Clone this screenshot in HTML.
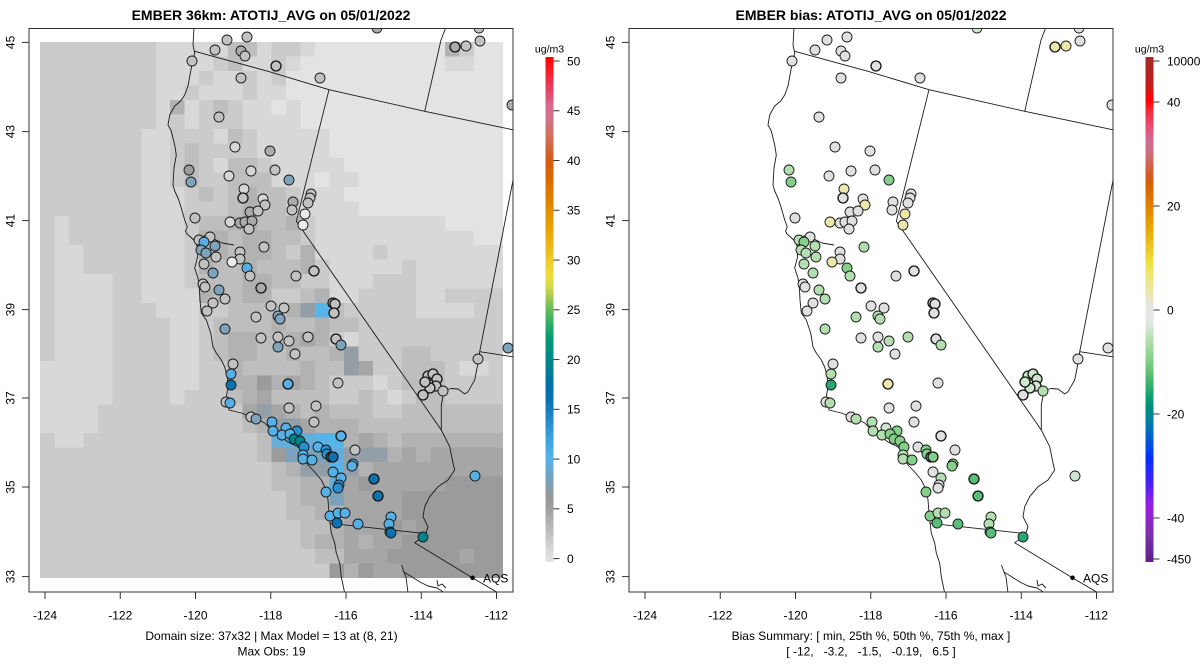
<!DOCTYPE html>
<html><head><meta charset="utf-8">
<style>
html,body{margin:0;padding:0;background:#fff;}
svg{display:block;font-family:"Liberation Sans",Arial,sans-serif;}
.t{font-size:12px;fill:#000;}
.ttl{font-size:14px;font-weight:bold;fill:#000;}
.ln{fill:none;stroke:#1a1a1a;stroke-width:0.9;stroke-linejoin:round;}
</style></head>
<body>
<svg id="s" width="1200" height="672" viewBox="0 0 1200 672" xmlns="http://www.w3.org/2000/svg">
<defs>
<clipPath id="cl"><rect x="29" y="28.5" width="484" height="563.5"/></clipPath>
<clipPath id="cr"><rect x="629" y="28.5" width="484" height="563.5"/></clipPath>
<linearGradient id="gl" gradientUnits="userSpaceOnUse" x1="0" y1="57" x2="0" y2="562">
<stop offset="0" stop-color="#ff0000"/>
<stop offset="0.028" stop-color="#f51e2a"/>
<stop offset="0.067" stop-color="#e44468"/>
<stop offset="0.097" stop-color="#d66a94"/>
<stop offset="0.127" stop-color="#d07482"/>
<stop offset="0.166" stop-color="#d06c52"/>
<stop offset="0.206" stop-color="#d45c10"/>
<stop offset="0.246" stop-color="#d96c00"/>
<stop offset="0.283" stop-color="#de8000"/>
<stop offset="0.323" stop-color="#e49a00"/>
<stop offset="0.362" stop-color="#e9b010"/>
<stop offset="0.402" stop-color="#eec828"/>
<stop offset="0.432" stop-color="#eedd3a"/>
<stop offset="0.451" stop-color="#d8dc48"/>
<stop offset="0.471" stop-color="#b2cc50"/>
<stop offset="0.491" stop-color="#7cc258"/>
<stop offset="0.511" stop-color="#52b860"/>
<stop offset="0.531" stop-color="#2aaa66"/>
<stop offset="0.560" stop-color="#009a76"/>
<stop offset="0.590" stop-color="#008c86"/>
<stop offset="0.620" stop-color="#007e94"/>
<stop offset="0.650" stop-color="#0070a6"/>
<stop offset="0.679" stop-color="#0a70b4"/>
<stop offset="0.709" stop-color="#1f82c6"/>
<stop offset="0.739" stop-color="#3098d8"/>
<stop offset="0.766" stop-color="#42a8e0"/>
<stop offset="0.796" stop-color="#56b2e6"/>
<stop offset="0.816" stop-color="#67a9d2"/>
<stop offset="0.836" stop-color="#76a2bc"/>
<stop offset="0.855" stop-color="#8a9ea8"/>
<stop offset="0.875" stop-color="#979797"/>
<stop offset="0.895" stop-color="#a0a0a0"/>
<stop offset="0.915" stop-color="#adadad"/>
<stop offset="0.935" stop-color="#bababa"/>
<stop offset="0.954" stop-color="#c8c8c8"/>
<stop offset="0.974" stop-color="#d6d6d6"/>
<stop offset="1" stop-color="#e4e4e4"/>
</linearGradient>
<linearGradient id="gr" gradientUnits="userSpaceOnUse" x1="0" y1="57" x2="0" y2="562">
<stop offset="0" stop-color="#a52a2a"/>
<stop offset="0.036" stop-color="#b22222"/>
<stop offset="0.061" stop-color="#d01818"/>
<stop offset="0.085" stop-color="#ff0000"/>
<stop offset="0.109" stop-color="#f03040"/>
<stop offset="0.135" stop-color="#e84c6c"/>
<stop offset="0.164" stop-color="#d06a96"/>
<stop offset="0.188" stop-color="#cf7080"/>
<stop offset="0.214" stop-color="#d0644c"/>
<stop offset="0.240" stop-color="#d45a1a"/>
<stop offset="0.263" stop-color="#d86800"/>
<stop offset="0.293" stop-color="#e08000"/>
<stop offset="0.323" stop-color="#e49a00"/>
<stop offset="0.352" stop-color="#e8b010"/>
<stop offset="0.382" stop-color="#eec828"/>
<stop offset="0.406" stop-color="#f0e040"/>
<stop offset="0.432" stop-color="#f0e670"/>
<stop offset="0.461" stop-color="#ece6a8"/>
<stop offset="0.485" stop-color="#e6e6d0"/>
<stop offset="0.501" stop-color="#e6e6e6"/>
<stop offset="0.521" stop-color="#e6e6e6"/>
<stop offset="0.541" stop-color="#cce6cc"/>
<stop offset="0.566" stop-color="#aedcaa"/>
<stop offset="0.590" stop-color="#90d490"/>
<stop offset="0.616" stop-color="#70c878"/>
<stop offset="0.644" stop-color="#40b468"/>
<stop offset="0.671" stop-color="#10a070"/>
<stop offset="0.695" stop-color="#008c80"/>
<stop offset="0.719" stop-color="#0080a0"/>
<stop offset="0.743" stop-color="#0068c0"/>
<stop offset="0.768" stop-color="#0050e0"/>
<stop offset="0.794" stop-color="#0030ff"/>
<stop offset="0.822" stop-color="#2828f8"/>
<stop offset="0.848" stop-color="#5020f0"/>
<stop offset="0.873" stop-color="#8020e8"/>
<stop offset="0.897" stop-color="#9a20d8"/>
<stop offset="0.925" stop-color="#8a28c0"/>
<stop offset="0.950" stop-color="#7830a8"/>
<stop offset="0.976" stop-color="#6a2898"/>
<stop offset="1" stop-color="#602080"/>
</linearGradient>
<g id="map">
<path class="ln" d="M194,28 L193,45 L194.7,53 L191.3,68 L188,86 L184.7,95 L180.7,101 L174.7,106 L169.7,115 L168,125 L171.3,131 L174.7,145 L176.3,155 L174,168 L173,185 L174.7,191 L178,198 L181.3,208 L184.7,220 L187.3,227 L185.5,231 L187,234 L190,236.5 L194.7,241 L198,248 L197.3,258 L194.7,268 L198,278 L199.5,290 L200,300 L201.3,313 L206.3,320 L210.7,333 L213,347 L216.3,353 L221.3,360 L224.7,367 L227.3,377 L228,387 L226.3,397 L228,403 L229,410 L241.3,413 L254.7,418 L264.7,423 L273,432 L281.3,437 L288,442 L298,447 L303,452 L305,460 L308,465 L314.7,472 L321.3,480 L326.3,490 L328,500 L329,513 L329.7,520 L331.3,533 L334.7,543 L336.3,553 L339.7,563 L341.3,577 L344.7,593"/>
<path class="ln" d="M199,239 L204,236 L210,237 L216,240 L222,243 L228,244 L234,245"/>
<path class="ln" d="M194.7,51.3 L268,71.3 L329,89.7 L424.7,111.3 L514,130"/>
<path class="ln" d="M329,89.7 L296.3,221.3 L441.3,430"/>
<path class="ln" d="M424.7,111.3 L436,62 L441,40 L446,27"/>
<path class="ln" d="M514,175 L479.7,351.7 L514,357"/>
<path class="ln" d="M479.7,351.7 L478,363 L474.7,380 L468,391.7 L464.7,394 L458,389 L451,388.5 L446,390 L443,396 L441.3,405 L441.3,430 L449.7,446.7 L453,463 L454.7,470 L448,480 L438,486.7 L429.7,496.7 L424.7,506.7 L423,516.7 L428,526.7 L425.3,535 L414.7,542.7 L472.3,577.7 L500,594"/>
<path class="ln" d="M329.7,523.3 L423,533.3 L425.3,535"/>
<path class="ln" d="M401.5,565 L404,572 L406,577 L407,585 L408,593 M404,572 L412,577 L420,582 L428,586 L437,588 L445,593 M437,580 L438,586 L442,584 L446,588"/>
</g>
</defs>

<text class="ttl" x="271" y="20" text-anchor="middle">EMBER 36km: ATOTIJ_AVG on 05/01/2022</text>
<text class="ttl" x="871" y="20" text-anchor="middle">EMBER bias: ATOTIJ_AVG on 05/01/2022</text>

<g clip-path="url(#cl)">
<g id="grid" shape-rendering="crispEdges"></g>
<use href="#map"/>
<g id="ptsL"></g>
<circle cx="472.5" cy="577.8" r="2.3" fill="#000"/>
<text class="t" x="483" y="582.5">AQS</text>
</g>
<rect x="29" y="28.5" width="484" height="563.5" fill="none" stroke="#333" stroke-width="1"/>

<g clip-path="url(#cr)">
<use href="#map" transform="translate(600,0)"/>
<g id="ptsR"></g>
<circle cx="1072.5" cy="577.8" r="2.3" fill="#000"/>
<text class="t" x="1083" y="582.5">AQS</text>
</g>
<rect x="629" y="28.5" width="484" height="563.5" fill="none" stroke="#333" stroke-width="1"/>

<g id="axes" stroke="#333" stroke-width="1"></g>
<g id="labs"></g>

<text class="t" x="271.5" y="640" text-anchor="middle">Domain size: 37x32 | Max Model = 13 at (8, 21)</text>
<text class="t" x="271.5" y="655.5" text-anchor="middle">Max Obs: 19</text>
<text class="t" x="871" y="640" text-anchor="middle">Bias Summary: [ min, 25th %, 50th %, 75th %, max ]</text>
<text class="t" x="871" y="655.5" text-anchor="middle" style="white-space:pre">[ -12,   -3.2,   -1.5,   -0.19,   6.5 ]</text>

<text x="549.5" y="52.5" text-anchor="middle" style="font-size:10.5px">ug/m3</text>
<rect x="545.5" y="57" width="8" height="505" fill="url(#gl)"/>
<text x="1149.5" y="52.5" text-anchor="middle" style="font-size:10.5px">ug/m3</text>
<rect x="1145.5" y="57" width="8" height="505" fill="url(#gr)"/>
</svg>
<script>
(function(){
var NS="http://www.w3.org/2000/svg";
function el(tag,a,p){var e=document.createElementNS(NS,tag);for(var k in a)e.setAttribute(k,a[k]);p.appendChild(e);return e;}
function tx(str,a,p,cls){var e=el('text',a,p);e.setAttribute('class',cls||'t');e.textContent=str;return e;}
var T="2222222222222222";
var G=[
"22222222111113312210000000004200",
"22222222111123112100000000001100",
"22222222111211212000000000000000",
"22222222112111211000000000000000",
"22222222141232110100000000000000",
"22222222121222111100000000000000",
"22222221122213211111000000000000",
"22222221123222211111000000000000",
"22222221123213321111100000000000",
"22222221123223331110110000000000",
"22222221112323433211100000000000",
"22222221112223433211110000000000",
"21222221112334433421111111110000",
"21222221112443443321111111111100",
"21122221112443443241111211111111",
"21122221112433433342111112111111",
"21111221112333443322111222111111",
"21111221111433442234112222112222",
"2111122211122333347B322222111122",
"21111222211233334334332222222222",
"21111222211234433454212222222222",
"21111222211234433433472223322222",
"11111222211224333343375223332112",
"11111222211224464543222123332222",
"11111222212223453333223212332222",
"11112222222222575434333223333333",
"11112222222222347754443333333333",
"2112222222222223999BB45434444444",
"22222222222222236888977745455555",
T+"3477B74555555555",
T+"3344956555556666",
T+"2344855556666666",
T+"2334455556666666",
T+"2233455565666666",
T+"2234454556666666",
T+"2223355566666566",
T+"2222646556666666"];
var C={'0':'#e3e3e3','1':'#d8d8d8','2':'#cbcbcb','3':'#bebebe','4':'#b2b2b2','5':'#a6a6a6','6':'#9b9b9b','7':'#949ea6','8':'#7ba3bd','9':'#64aedb','B':'#56b4e9'};
var grid=document.getElementById('grid');
for(var r=0;r<37;r++){for(var c=0;c<32;c++){
 el('rect',{x:(40+14.47*c).toFixed(2),y:(42+14.49*r).toFixed(2),width:(c<31?14.97:14.47),height:(r<36?14.99:14.49),fill:C[G[r].charAt(c)]},grid);
}}
var P=[[227,40,'g','w'],[247,37,'g','w'],[215,50,'g','w'],[241,51,'G','w'],[245,56,'g','w'],[192,61,'g','w'],[241,78,'g','w'],[276,66,'g','w',1],[320,78,'g','w'],[455,47,'G','y',1],[466,46,'g','y'],[480,41,'g','w'],[479,28,'g','w'],[377,28,'G','l'],[512,105,'G','w'],[219,117,'g','w'],[235,147,'h','w'],[270,151,'G','w'],[275,170,'g','w'],[189,170,'D','k'],[191,182,'b','m'],[229,176,'h','w'],[251,171,'h','w'],[289,180,'b','m'],[244,189,'h','y'],[243,198,'g','w',1],[263,199,'h','w'],[265,205,'g','y'],[250,212,'G','w'],[258,211,'g','w'],[195,218,'g','w'],[230,222,'h','y'],[240,223,'G','w'],[245,222,'G','w'],[252,221,'G','w'],[249,229,'g','w'],[311,194,'g','w'],[310,198,'g','w'],[308,203,'g','w'],[293,202,'G','w'],[292,210,'g','w'],[305,214,'w','y'],[303,225,'w','y'],[264,247,'g','k'],[210,237,'g','w'],[199,240,'g','k'],[204,242,'L','m'],[215,246,'b','k'],[201,250,'b','k'],[206,253,'b','k'],[216,257,'g','k'],[204,264,'g','k'],[240,252,'g','w'],[240,259,'g','w'],[232,262,'w','y'],[247,268,'L','m'],[250,276,'g','k'],[213,273,'b','k'],[203,284,'g','w'],[205,287,'g','w'],[261,288,'G','w',1],[219,290,'b','k'],[225,299,'g','k'],[213,303,'g','w'],[207,311,'g','w'],[314,271,'g','w',1],[296,276,'g','w'],[271,306,'g','w'],[284,308,'g','w'],[278,316,'b','k'],[280,319,'b','k'],[256,317,'g','k'],[333,303,'g','w',1],[335,304,'g','w',1],[334,313,'g','w',1],[225,329,'b','k'],[261,338,'g','w'],[278,337,'g','w'],[289,341,'g','k'],[308,337,'g','k'],[278,347,'b','k'],[336,339,'g','w',1],[341,345,'b','k'],[295,354,'g','w'],
[233,364,'g','w'],[231,374,'L','k'],[231,385,'N','q'],[288,384,'L','y',1],[338,383,'g','w'],[226,402,'g','w'],[230,403,'L','k'],[289,408,'g','w'],[316,406,'g','w'],[251,417,'g','w'],[256,419,'b','k'],[314,422,'g','w'],[272,422,'L','k'],[273,431,'L','k'],[286,428,'L','l'],[297,431,'M','m'],[282,435,'L','k'],[290,434,'L','m'],[294,439,'T','m'],[300,441,'T','m'],[304,447,'M','m'],[341,436,'L','w',1],[318,447,'L','w'],[326,450,'M','m'],[327,454,'M','m'],[331,457,'N','m',1],[333,457,'N','m',1],[303,455,'L','k'],[303,459,'L','k'],[312,460,'L','m'],[355,450,'g','w'],[353,464,'L','m'],[352,466,'L','m'],[333,472,'L','w'],[341,478,'L','k'],[339,485,'M','w'],[338,488,'M','w'],[326,492,'L','m'],[374,479,'N','n',1],[378,496,'N','n',1],[475,476,'L','l'],[330,516,'L','m'],[338,513,'L','k'],[345,513,'L','k'],[337,523,'N','n'],[358,524,'L','n'],[391,517,'L','k'],[389,524,'L','k'],[390,532,'M','n'],[391,533,'N','n'],[423,537,'T','q'],
[428,376,'g','l',1],[433,374,'g','l',1],[437,379,'g','l',1],[436,386,'g','l',1],[430,388,'g','l',1],[425,382,'g','l',1],[423,395,'g','w',1],[443,391,'g','k'],[478,359,'g','w'],[508,348,'b','w']];
var LC={g:'#c2c2c2',G:'#ababab',D:'#9c9c9c',h:'#d6d6d6',w:'#ececec',b:'#7ea4bc',L:'#56b0e6',M:'#2a8fd0',N:'#0a72b0',T:'#00828a'};
var RC={w:'#e0e0e0',y:'#ece8ac',l:'#cfe7cf',k:'#b2deb0',m:'#86cf8a',n:'#58bd76',q:'#2aa672'};
var pL=document.getElementById('ptsL'),pR=document.getElementById('ptsR');
for(var i=0;i<P.length;i++){var p=P[i];var sw=p[4]?1.35:0.9;
 el('circle',{cx:p[0],cy:p[1],r:5,fill:LC[p[2]],stroke:'#1a1a1a','stroke-width':sw},pL);
 el('circle',{cx:p[0]+600,cy:p[1],r:5,fill:RC[p[3]],stroke:'#1a1a1a','stroke-width':sw},pR);
}
var ax=document.getElementById('axes'),lb=document.getElementById('labs');
var lats=[[45,42.4],[43,131.6],[41,220.6],[39,309.6],[37,398],[35,487],[33,576.6]];
var lons=[-124,-122,-120,-118,-116,-114,-112];
for(var o=0;o<=600;o+=600){
 for(var j=0;j<lats.length;j++){var y=lats[j][1];
  el('line',{x1:22+o,y1:y,x2:29+o,y2:y},ax);
  tx(String(lats[j][0]),{x:0,y:0,'text-anchor':'middle',transform:'translate('+(14.5+o)+','+y+') rotate(-90)'},lb);
 }
 for(var j=0;j<lons.length;j++){var x=45+75.25*j+o;
  el('line',{x1:x,y1:592,x2:x,y2:599},ax);
  tx(String(lons[j]),{x:x,y:619.5,'text-anchor':'middle'},lb);
 }
}
for(var v=0;v<=50;v+=5){var y=558.6-v*9.952;
 el('line',{x1:553.5,y1:y,x2:559.5,y2:y},ax);
 tx(String(v),{x:567,y:y+4.3},lb);
}
var rl=[["10000",61],["40",102],["20",206],["0",310],["-20",414],["-40",518],["-450",559]];
for(var j=0;j<rl.length;j++){var y=rl[j][1];
 el('line',{x1:1153.5,y1:y,x2:1159.5,y2:y},ax);
 tx(rl[j][0],{x:1167,y:y+4.3},lb);
}
})();
</script>
</body></html>
